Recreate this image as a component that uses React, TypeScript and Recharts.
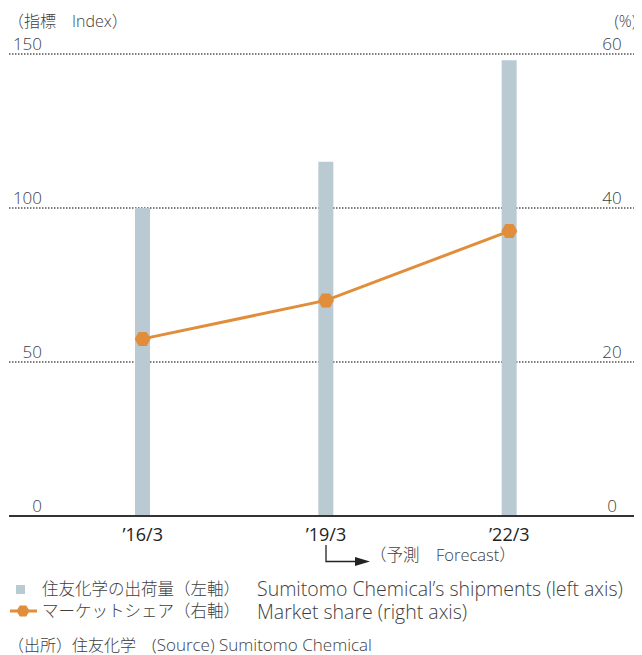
import React from 'react';
import { ComposedChart, Bar, Line, XAxis, YAxis, CartesianGrid } from 'recharts';

const periods = ['’16/3', '’19/3', '’22/3'];
const shipments = [100, 115, 148];
const marketShare = [23, 28, 37];
const leftTicks = [0, 50, 100, 150];
const rightTicks = [0, 20, 40, 60];

const data = periods.map((period, i) => ({ period, shipments: shipments[i], share: marketShare[i] }));

// Latin glyphs from Open Sans, kana/kanji fall through to Noto Sans CJK
const FONT = "'Open Sans', 'Noto Sans CJK JP', sans-serif";
const BAR_COLOR = '#b9cad3';
const LINE_COLOR = '#e08e3b';
const TEXT_COLOR = '#3e3e3e';

// flat-topped hexagon used for the share markers
function Hexagon({ cx, cy, w = 16, h = 14 }: { cx: number; cy: number; w?: number; h?: number }) {
  const a = w / 2;
  const b = w / 4;
  const c = h / 2;
  const pts = [
    [cx - a, cy],
    [cx - b, cy - c],
    [cx + b, cy - c],
    [cx + a, cy],
    [cx + b, cy + c],
    [cx - b, cy + c],
  ]
    .map((p) => p.join(','))
    .join(' ');
  return <polygon points={pts} fill={LINE_COLOR} />;
}

const LeftTick = ({ y, payload }: any) => (
  <text x={34} y={y - 4} textAnchor="end" fontSize={17} fontWeight={300} fill={TEXT_COLOR} fontFamily={FONT}>
    {payload.value}
  </text>
);

const RightTick = ({ y, payload }: any) => (
  <text x={604} y={y - 4} textAnchor="middle" fontSize={17} fontWeight={300} fill={TEXT_COLOR} fontFamily={FONT}>
    {payload.value}
  </text>
);

const PeriodTick = ({ x, payload, index }: any) => (
  <g>
    <text x={x} y={533} textAnchor="middle" fontSize={18} fill="#222" fontFamily={FONT}>
      {payload.value}
    </text>
    {index === 1 && (
      <g>
        {/* forecast marker hangs off the '19/3 label */}
        <polyline points={`${x},${537} ${x},${553.5} ${x + 30},${553.5}`} fill="none" stroke="#222" strokeWidth={1.3} />
        <polygon points={`${x + 29},${549} ${x + 44},${553.5} ${x + 29},${558}`} fill="#222" />
        <text x={x + 44} y={552.5} fontSize={16.5} fontWeight={300} fill={TEXT_COLOR} fontFamily={FONT}>
          （予測　Forecast）
        </text>
      </g>
    )}
  </g>
);

export default function App() {
  return (
    <div style={{ position: 'relative', width: 630, height: 647, fontFamily: FONT }}>
      <style>{'body{overflow:hidden}'}</style>
      <ComposedChart width={630} height={568} data={data} margin={{ top: 46, right: 0, bottom: 0, left: 0 }}>
        <CartesianGrid
          yAxisId="l"
          vertical={false}
          stroke="#555"
          strokeWidth={1.5}
          strokeDasharray="1.5 1.5"
        />
        <XAxis
          dataKey="period"
          height={60}
          interval={0}
          padding={{ left: 42, right: 36 }}
          tickLine={false}
          axisLine={{ stroke: '#333', strokeWidth: 2 }}
          tick={<PeriodTick />}
        />
        <YAxis
          yAxisId="l"
          orientation="left"
          width={1}
          domain={[0, 150]}
          ticks={leftTicks}
          interval={0}
          axisLine={false}
          tickLine={false}
          tick={<LeftTick />}
        />
        <YAxis
          yAxisId="r"
          orientation="right"
          width={1}
          domain={[0, 60]}
          ticks={rightTicks}
          interval={0}
          axisLine={false}
          tickLine={false}
          tick={<RightTick />}
        />
        <Bar yAxisId="l" dataKey="shipments" barSize={15} fill={BAR_COLOR} isAnimationActive={false} />
        <Line
          yAxisId="r"
          dataKey="share"
          stroke={LINE_COLOR}
          strokeWidth={3}
          isAnimationActive={false}
          dot={(p: any) => <Hexagon key={p.index} cx={p.cx} cy={p.cy} />}
          activeDot={false}
        />
      </ComposedChart>

      <svg
        width={634}
        height={647}
        style={{ position: 'absolute', left: 0, top: 0, pointerEvents: 'none', overflow: 'visible' }}
        fontFamily={FONT}
      >
        <text x={0} y={18.5} fontSize={16} fontWeight={300} fill={TEXT_COLOR}>
          （指標　Index）
        </text>
        <text x={628} y={18.5} textAnchor="end" fontSize={16} fontWeight={300} fill={TEXT_COLOR}>
          (%)
        </text>

        {/* legend */}
        <rect x={8} y={577} width={9} height={9} fill={BAR_COLOR} />
        <text x={34} y={587} fontSize={16.5} fontWeight={300} fill={TEXT_COLOR}>
          住友化学の出荷量（左軸）
        </text>
        <text x={249} y={587.5} fontSize={19.5} fontWeight={300} fill={TEXT_COLOR}>
          Sumitomo Chemical’s shipments (left axis)
        </text>
        <line x1={2} x2={29} y1={603} y2={603} stroke={LINE_COLOR} strokeWidth={3} />
        <Hexagon cx={15} cy={603} w={13} h={11} />
        <text x={34} y={609} fontSize={16.5} fontWeight={300} fill={TEXT_COLOR}>
          マーケットシェア（右軸）
        </text>
        <text x={249} y={610.5} fontSize={19.5} fontWeight={300} fill={TEXT_COLOR}>
          Market share (right axis)
        </text>

        <text x={0} y={643} fill={TEXT_COLOR} fontWeight={300}>
          <tspan fontSize={16}>（出所）住友化学　</tspan>
          <tspan fontSize={17}>(Source) Sumitomo Chemical</tspan>
        </text>
      </svg>
    </div>
  );
}
